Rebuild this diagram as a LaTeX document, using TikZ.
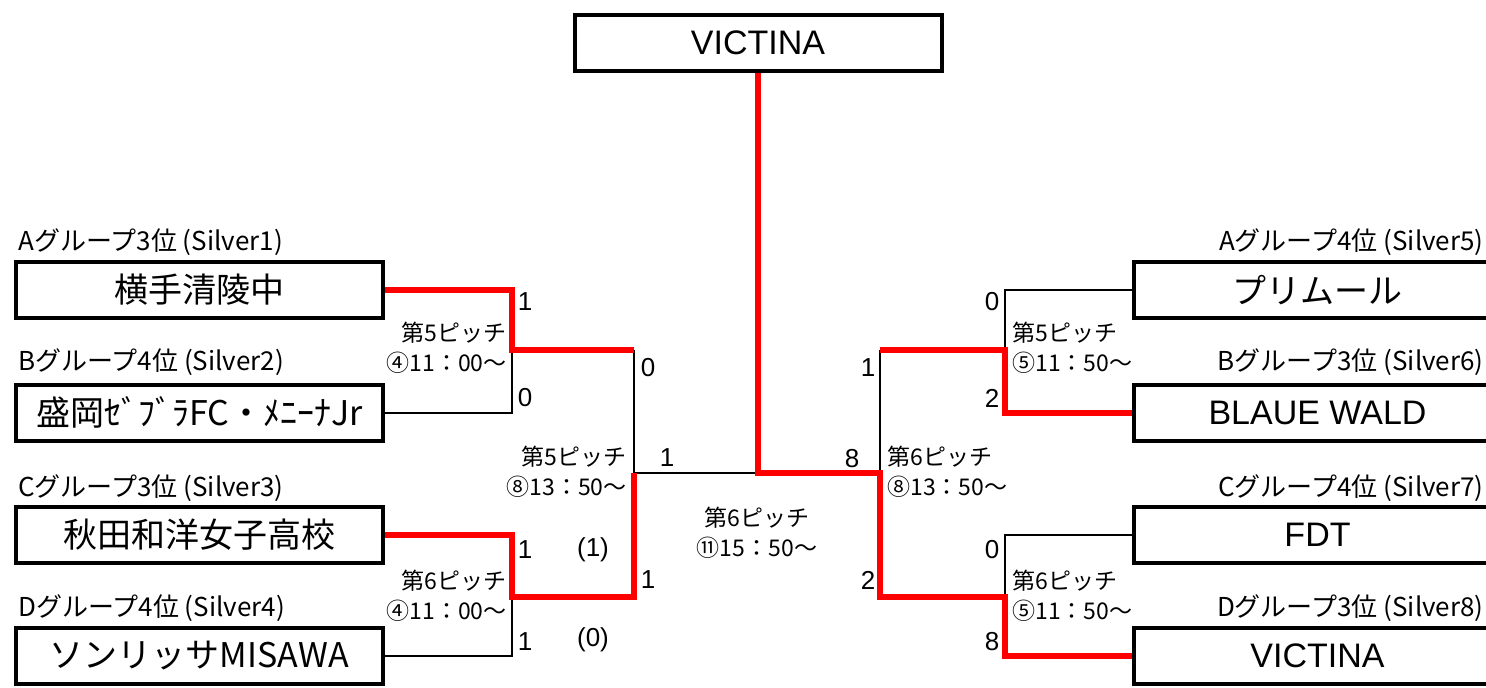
\documentclass[tikz,border=0pt]{standalone}
\usepackage{fontspec}
\setmainfont{Liberation Sans}
\newfontfamily\jp{Noto Sans CJK JP}
\newcommand\J[1]{{\jp #1}}
\tikzset{
	team/.style={draw, line width=2pt, minimum width=183.5pt, minimum height=28pt, inner sep=0pt, font=\fontsize{17}{20}\selectfont},
	grp/.style={inner sep=0pt, font=\jp\fontsize{13}{15}\selectfont},
	pitch/.style={inner sep=0pt, font=\jp\fontsize{11.5}{15}\selectfont},
	score/.style={inner sep=0pt, font=\fontsize{13}{15}\selectfont},
	lose/.style={line width=1pt},
	win/.style={line width=3pt, red},
}
\begin{document}
\begin{tikzpicture}[x=0.5pt,y=-0.5pt]
		\clip (0,0) rectangle (1486,687);
		\node[team] (champ) at (758,43) {VICTINA};
		\node[team] (t1) at (199.5,290) {\J{横手清陵中}};
		\node[team] (t2) at (199.5,412.5) {\J{盛岡ｾﾞﾌﾞﾗFC・ﾒﾆｰﾅJr}};
		\node[team] (t3) at (199.5,535) {\J{秋田和洋女子高校}};
		\node[team] (t4) at (199.5,656) {\J{ソンリッサMISAWA}};
		\node[team] (t5) at (1317.5,290) {\J{プリムール}};
		\node[team] (t6) at (1317.5,412.5) {BLAUE WALD};
		\node[team] (t7) at (1317.5,535) {FDT};
		\node[team] (t8) at (1317.5,656) {VICTINA};
		\node[grp, anchor=west] (g1) at (18,242) {Aグループ3位 (Silver1)};
		\node[grp, anchor=west] (g2) at (18,362) {Bグループ4位 (Silver2)};
		\node[grp, anchor=west] (g3) at (18,488) {Cグループ3位 (Silver3)};
		\node[grp, anchor=west] (g4) at (18,608) {Dグループ4位 (Silver4)};
		\node[grp, anchor=east] (g5) at (1484,242) {Aグループ4位 (Silver5)};
		\node[grp, anchor=east] (g6) at (1484,362) {Bグループ3位 (Silver6)};
		\node[grp, anchor=east] (g7) at (1484,488) {Cグループ4位 (Silver7)};
		\node[grp, anchor=east] (g8) at (1484,608) {Dグループ3位 (Silver8)};
		\coordinate (q1) at (512,350);
		\coordinate (q2) at (512,597);
		\coordinate (s1) at (634,350);
		\coordinate (s2) at (634,597);
		\coordinate (fl) at (634,473);
		\coordinate (fc) at (758,473);
		\coordinate (fr) at (880,473);
		\coordinate (s3) at (880,350);
		\coordinate (s4) at (880,597);
		\coordinate (q3) at (1005,350);
		\coordinate (q4) at (1005,597);
		\draw[lose] (t2.east) -| (q1);
		\draw[lose] (t4.east) -| (q2);
		\draw[lose] (s1) -- (fl) -- (fc);
		\draw[lose] (s3) -- (fr);
		\draw[lose] (t5.west) -| (q3);
		\draw[lose] (t7.west) -| (q4);
		\draw[win] (t1.east) -| (q1) -- (s1);
		\draw[win] (t3.east) -| (q2) -- (s2) -- (fl);
		\draw[win] (champ.south) -- (fc) -- (fr) -- (s4) -- (q4) |- (t8.west);
		\draw[win] (s3) -- (q3) |- (t6.west);
		\node[pitch, anchor=east, align=right] (p1) at (507,348) {第5ピッチ\\④11：00～};
		\node[pitch, anchor=east, align=right] (p2) at (507,596) {第6ピッチ\\④11：00～};
		\node[pitch, anchor=east, align=right] (p3) at (627,472) {第5ピッチ\\⑧13：50～};
		\node[pitch, align=center] (p4) at (757,533) {第6ピッチ\\⑪15：50～};
		\node[pitch, anchor=west, align=left] (p5) at (887,472) {第6ピッチ\\⑧13：50～};
		\node[pitch, anchor=west, align=left] (p6) at (1012,348) {第5ピッチ\\⑤11：50～};
		\node[pitch, anchor=west, align=left] (p7) at (1012,596) {第6ピッチ\\⑤11：50～};
		\node[score] (r1) at (525,302) {1};
		\node[score] (r2) at (525,398) {0};
		\node[score] (r3) at (525,550) {1};
		\node[score] (r4) at (525,642) {1};
		\node[score] (r5) at (593,550) {(1)};
		\node[score] (r6) at (593,640) {(0)};
		\node[score] (r7) at (648,368) {0};
		\node[score] (r8) at (667,458) {1};
		\node[score] (r9) at (648,580) {1};
		\node[score] (r10) at (852,459) {8};
		\node[score] (r11) at (868,580) {2};
		\node[score] (r12) at (868,368) {1};
		\node[score] (r13) at (992,302) {0};
		\node[score] (r14) at (992,398) {2};
		\node[score] (r15) at (992,550) {0};
		\node[score] (r16) at (992,642) {8};
\end{tikzpicture}
\end{document}
